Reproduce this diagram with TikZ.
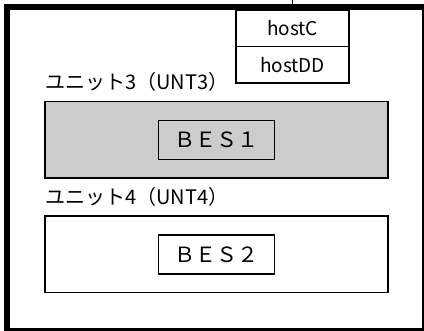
\documentclass[tikz,border=0pt]{standalone}
\usepackage{fontspec}
\setmainfont{Noto Sans CJK JP}
\usetikzlibrary{positioning}

\begin{document}
\begin{tikzpicture}[
        x=1pt, y=-1pt,
        node distance=0pt,
        hostbox/.style={draw, fill=white, line width=1.5pt, outer sep=0pt, inner sep=0pt,
            minimum width=113pt, minimum height=36.5pt, font=\fontsize{19}{22}\selectfont},
        unitbox/.style={draw, line width=1.5pt, outer sep=0pt, inner sep=0pt,
            minimum width=343pt, minimum height=76.5pt},
        besbox/.style={draw, line width=1.5pt, outer sep=0pt, inner sep=0pt,
            minimum width=116pt, minimum height=39pt, font=\fontsize{21}{24}\selectfont},
        unitlabel/.style={anchor=west, inner sep=0pt, font=\fontsize{20}{24}\selectfont},
    ]

    \useasboundingbox (0,0) rectangle (424,331);
    \draw[line width=6pt] (7,7) rectangle (424.5,331);

    \node[hostbox, anchor=north] (hostc) at (292.5,10) {hostC};
    \node[hostbox, below=of hostc] (hostdd) {hostDD};
    \coordinate (feed) at (292.5,0);
    \draw[line width=1.5pt] (hostc.north) -- (feed);

    \node[unitlabel] (unit3) at (45,82) {ユニット3（UNT3）};
    \node[unitbox, fill=black!20] (unit3box) at (216.5,140) {};
    \node[besbox] (bes1) at (unit3box.center) {ＢＥＳ１};

    \node[unitlabel] (unit4) at (45,197) {ユニット4（UNT4）};
    \node[unitbox] (unit4box) at (216.5,254.5) {};
    \node[besbox] (bes2) at (unit4box.center) {ＢＥＳ２};

\end{tikzpicture}
\end{document}
